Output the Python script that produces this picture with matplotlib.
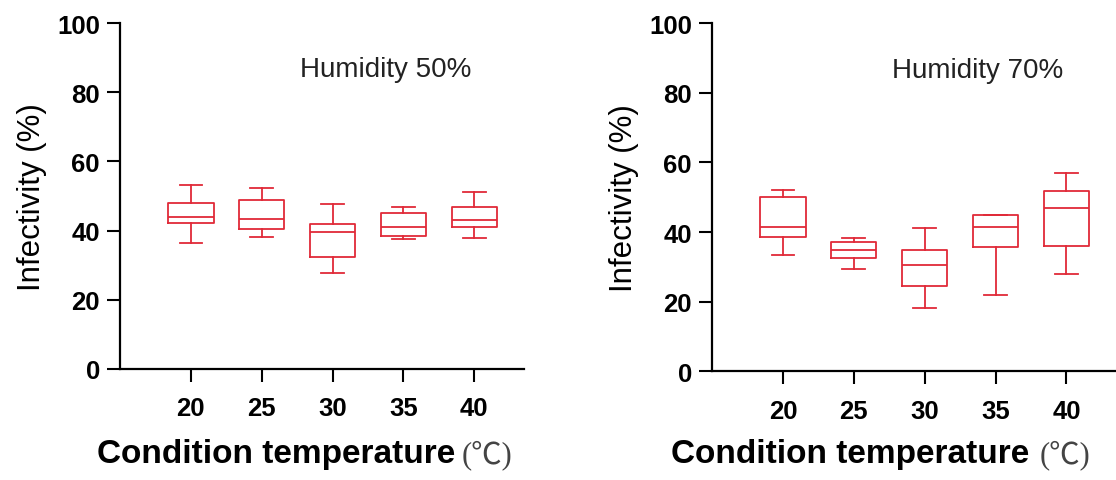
import matplotlib
matplotlib.use("Agg")
import matplotlib.pyplot as plt

plt.rcParams['font.family'] = ['Liberation Sans', 'DejaVu Sans']

# Condition temperatures (categories)
temps = ['20', '25', '30', '35', '40']

# Humidity 50% box stats
h50_whislo = [36.3, 38.2, 27.7, 37.6, 37.9]
h50_q1 = [42.1, 40.6, 32.3, 38.5, 40.9]
h50_med = [44.0, 43.3, 39.5, 40.9, 43.0]
h50_q3 = [48.1, 48.8, 41.9, 45.2, 46.7]
h50_whishi = [53.1, 52.4, 47.6, 46.7, 51.2]

# Humidity 70% box stats
h70_whislo = [33.4, 29.4, 18.1, 22.0, 28.0]
h70_q1 = [38.7, 32.6, 24.6, 35.6, 36.1]
h70_med = [41.5, 35.0, 30.6, 41.5, 47.0]
h70_q3 = [50.2, 37.2, 35.0, 44.9, 51.7]
h70_whishi = [52.2, 38.3, 41.3, 45.0, 56.9]

red = '#e02a38'


def make_stats(lo, q1, med, q3, hi):
    return [dict(whislo=a, q1=b, med=c, q3=d, whishi=e, fliers=[])
            for a, b, c, d, e in zip(lo, q1, med, q3, hi)]


def draw_panel(ax, stats, title, ylab_x):
    lp = dict(color=red, linewidth=1.3)
    ax.bxp(stats, positions=range(1, len(temps) + 1), widths=0.64,
           showfliers=False, boxprops=lp, whiskerprops=lp, capprops=lp,
           medianprops=lp)
    ax.set_xlim(0, 5.7)
    ax.set_ylim(0, 100)
    ax.set_yticks([0, 20, 40, 60, 80, 100])
    ax.set_xticks(range(1, len(temps) + 1))
    ax.set_xticklabels(temps)
    for s in ['top', 'right']:
        ax.spines[s].set_visible(False)
    for s in ['left', 'bottom']:
        ax.spines[s].set_linewidth(1.6)
    ax.tick_params(axis='both', length=9.5, width=1.5, labelsize=18.5)
    ax.tick_params(axis='x', pad=10)
    ax.tick_params(axis='y', pad=5)
    for lab in ax.get_xticklabels() + ax.get_yticklabels():
        lab.set_fontweight('bold')
    ax.set_ylabel('Infectivity (%)', fontsize=22.5)
    ax.yaxis.set_label_coords(ylab_x, 0.5)
    ax.text(0.87, 0.866, title, transform=ax.transAxes, fontsize=20,
            ha='right', va='center', color='#222222')


fig = plt.figure(figsize=(11.16, 4.81), dpi=100)
ax1 = fig.add_axes([0.1075, 0.2308, 0.362, 0.7193])
ax2 = fig.add_axes([0.638, 0.2256, 0.362, 0.7245])

draw_panel(ax1, make_stats(h50_whislo, h50_q1, h50_med, h50_q3, h50_whishi),
           'Humidity 50%', -0.18)
draw_panel(ax2, make_stats(h70_whislo, h70_q1, h70_med, h70_q3, h70_whishi),
           'Humidity 70%', -0.18)

# x labels: bold text + serif unit
for x_end, x_unit in [(455, 462), (1029, 1040)]:
    fig.text(x_end / 1116, 1 - 455 / 481, 'Condition temperature',
             fontsize=24, fontweight='bold', ha='right', va='center')
    fig.text(x_unit / 1116, 1 - 455 / 481, '(\u2103)', fontsize=22,
             family=['Liberation Serif', 'Noto Sans CJK SC'],
             ha='left', va='center', color='#444444')

fig.savefig('out.png', dpi=100)
